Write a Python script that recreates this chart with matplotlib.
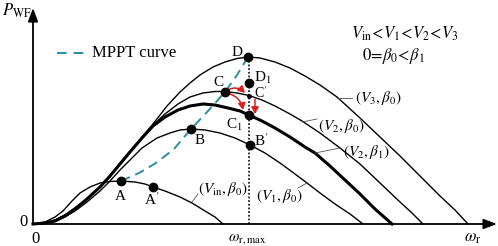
import matplotlib
matplotlib.use("Agg")
import matplotlib.pyplot as plt
from matplotlib.patches import FancyArrowPatch
import numpy as np

plt.rcParams['font.family'] = ['Liberation Serif', 'DejaVu Serif']
plt.rcParams['mathtext.fontset'] = 'stix'

# power curves P_WF(omega_r) (arbitrary units)
w_in = [0, 12, 22, 30, 39, 47, 57, 67, 77, 88, 102, 112, 120, 132, 147, 159, 172, 182, 190]
p_in = [0, 2, 7, 13, 23, 31, 37, 41, 42.5, 43, 42, 40, 37, 33, 27, 21, 13, 7, 0]

w_v1 = [0, 12, 22, 32, 42, 54, 67, 77, 87, 97, 109, 124, 137, 147, 158, 172, 187, 202, 217,
        232, 247, 262, 274, 287, 302, 317, 330]
p_v1 = [0, 1, 3, 7, 13, 22, 33, 43, 54, 64, 76, 86, 91, 94, 95, 94, 91, 86, 79,
        71, 61, 50, 41, 31, 20, 10, 0]

w_v2b1 = [0, 12, 22, 32, 42, 54, 67, 77, 87, 97, 109, 120, 132, 145, 157, 170, 182, 195, 207,
          216, 229, 242, 257, 272, 282, 297, 312, 327, 342, 359]
p_v2b1 = [0, 1, 3, 8, 15, 25, 37, 48, 60, 72, 86, 98, 107, 114, 118, 120, 119, 116, 113,
          109, 103, 96, 87, 77, 71, 58, 44, 30, 15, 0]

w_v2 = [0, 12, 22, 32, 42, 54, 67, 77, 87, 97, 109, 120, 132, 145, 157, 170, 182, 192, 204,
        216, 229, 242, 257, 269, 287, 307, 327, 347, 367, 379, 390]
p_v2 = [0, 1, 4, 9, 16, 25, 37, 48, 60, 72, 86, 99, 110, 120, 127, 131, 132.5, 132.5, 131,
        128.5, 124, 118, 110, 103, 91, 76, 60, 41, 22, 11, 0]

w_v3 = [0, 12, 22, 32, 42, 54, 67, 77, 87, 97, 109, 120, 134, 147, 157, 167, 180, 192, 204,
        215, 227, 242, 257, 272, 287, 304, 327, 347, 367, 387, 407, 422, 435]
p_v3 = [0, 1, 4, 9, 16, 25, 37, 48, 61, 73, 87, 100, 118, 132, 141, 149, 157, 162, 165.5,
        167, 166, 162, 156, 148, 139, 127, 106, 87, 68, 48, 28, 14, 0]

w_mppt = [88, 106, 123, 141, 158, 175, 192, 204, 215]
p_mppt = [43, 51, 61, 75, 95, 113, 132, 149, 167]

w_rmax = 216

pt_names = ['A', "A'", 'B', "B'", 'C', 'C1', 'D', 'D1']
pt_w = [88, 120, 158, 217, 192, 216, 215, 216]
pt_p = [43, 37, 95, 79, 132, 109, 167, 141]
cp_w, cp_p = 216, 128.5  # C'

fig = plt.figure(figsize=(4.98, 2.46), dpi=100)
ax = fig.add_axes([0, 0, 1, 1])
ax.set_xlim(-33, 465)
ax.set_ylim(-22, 224)
ax.axis('off')

thin = 1.0
ax.plot(w_in, p_in, color='black', lw=thin)
ax.plot(w_v1, p_v1, color='black', lw=thin)
ax.plot(w_v2, p_v2, color='black', lw=thin)
ax.plot(w_v3, p_v3, color='black', lw=thin)
ax.plot(w_v2b1, p_v2b1, color='black', lw=2.2)

teal = '#2a8ca5'
ax.plot(w_mppt, p_mppt, color=teal, lw=1.4, dashes=(5, 3))
ax.plot([24, 55], [171, 171], color=teal, lw=1.4, dashes=(5, 3.5))
ax.text(59, 171, 'MPPT curve', fontsize=12, va='center', ha='left')

# omega_r,max line
ax.plot([w_rmax, w_rmax], [0, 167], color='black', lw=1.1, dashes=(1.2, 1.2))

# axes with arrows
ax.annotate('', xy=(464, 0), xytext=(0, 0),
            arrowprops=dict(arrowstyle='-|>,head_length=0.8,head_width=0.3', color='black', lw=1.3,
                            shrinkA=0, shrinkB=0))
ax.annotate('', xy=(0, 216), xytext=(0, 0),
            arrowprops=dict(arrowstyle='-|>,head_length=0.8,head_width=0.3', color='black', lw=1.3,
                            shrinkA=0, shrinkB=0))

# points
ax.plot(pt_w, pt_p, 'o', color='black', ms=6, zorder=5)
ax.plot([cp_w], [cp_p], 'o', color='black', ms=2.5, zorder=5)

fs = 11
ax.text(87, 28, 'A', fontsize=fs, ha='center', va='center')
ax.text(119, 24, "A$'$", fontsize=fs, ha='center', va='center')
ax.text(167, 83, 'B', fontsize=fs, ha='center', va='center')
ax.text(221, 83, "B$'$", fontsize=fs, ha='left', va='center')
ax.text(185, 141, 'C', fontsize=fs, ha='center', va='center')
ax.text(201, 99, 'C$_1$', fontsize=fs, ha='center', va='center')
ax.text(221, 131, "C$'$", fontsize=10, ha='left', va='center')
ax.text(204, 172, 'D', fontsize=fs, ha='center', va='center')
ax.text(221, 146, 'D$_1$', fontsize=fs, ha='left', va='center')

# red transition arrows
red = '#d8201e'
ax.add_patch(FancyArrowPatch((193, 133), (212, 131), connectionstyle='arc3,rad=-0.4',
                             arrowstyle='-|>,head_length=4,head_width=2.2', color=red, lw=1.1,
                             shrinkA=2, shrinkB=0))
ax.add_patch(FancyArrowPatch((193, 131), (210, 114), connectionstyle='arc3,rad=-0.35',
                             arrowstyle='-|>,head_length=4,head_width=2.2', color=red, lw=1.1,
                             shrinkA=2, shrinkB=0))
ax.add_patch(FancyArrowPatch((222, 125), (222, 110), arrowstyle='-|>,head_length=4,head_width=2.2',
                             color=red, lw=1.1, shrinkA=0, shrinkB=0))

# curve labels with leaders
lab = [
    (r'$(V_3,\beta_0)$', 322, 126, (304, 319), (126, 126)),
    (r'$(V_2,\beta_0)$', 285, 98, (269, 284), (102, 105)),
    (r'$(V_2,\beta_1)$', 310, 72, (282, 307), (71, 76)),
    (r'$(V_1,\beta_0)$', 223, 28, (265, 274), (36, 41)),
    (r'$(V_{\mathrm{in}},\beta_0)$', 165, 35, (159, 165), (22, 30)),
]
for s, x, y, lx, ly in lab:
    ax.plot(lx, ly, color='#555555', lw=0.6)
    ax.text(x, y, s, fontsize=fs, ha='left', va='center')

ax.text(372, 190, r'$V_{\mathrm{in}}\!<\!V_1\!<\!V_2\!<\!V_3$', fontsize=12, ha='center', va='center')
ax.text(329, 168, r'$0\!=\!\beta_0\!<\!\beta_1$', fontsize=12, ha='left', va='center')

ax.text(-31, 213, r'$P_{\mathrm{WF}}$', fontsize=12, ha='left', va='center')
ax.text(-10, 2, '0', fontsize=12, ha='center', va='center')
ax.text(3, -15, '0', fontsize=12, ha='center', va='center')
ax.text(214, -15, r'$\omega_{\mathrm{r,max}}$', fontsize=11, ha='center', va='center')
ax.text(440, -14, r'$\omega_{\mathrm{r}}$', fontsize=12, ha='center', va='center')

fig.savefig('out.png', dpi=100)
